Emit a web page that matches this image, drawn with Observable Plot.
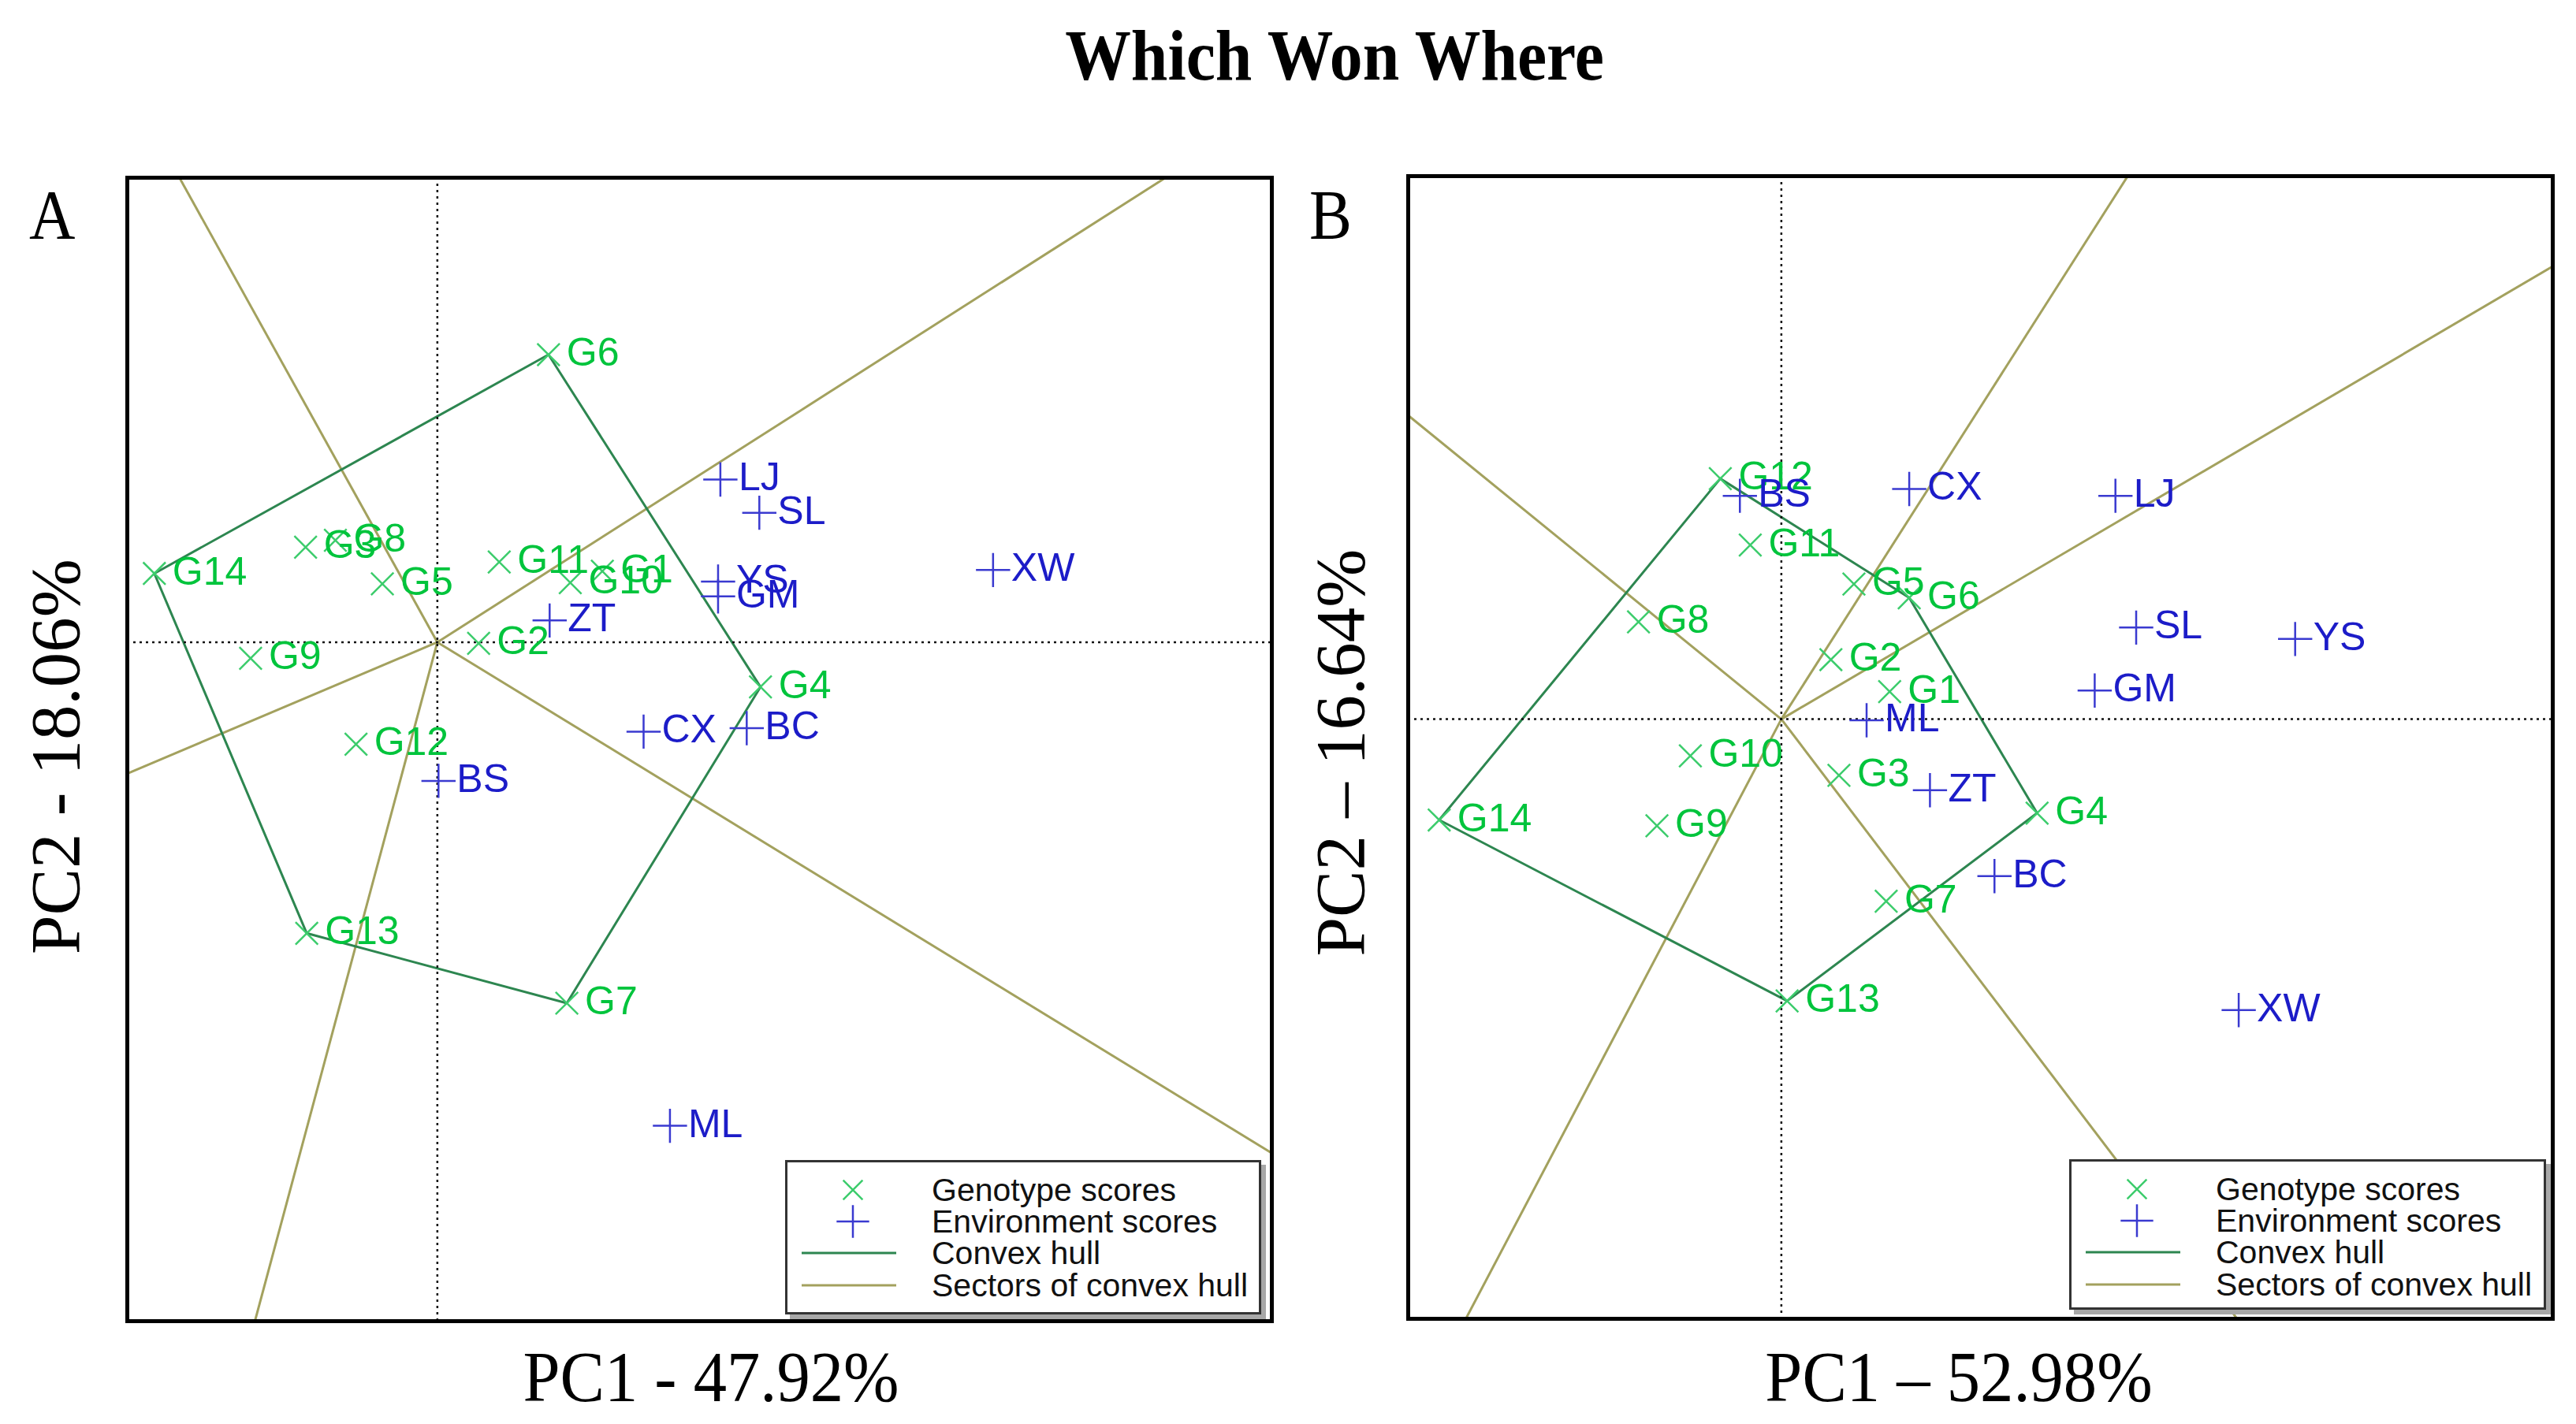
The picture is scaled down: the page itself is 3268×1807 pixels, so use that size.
<!DOCTYPE html>
<html>
<head>
<meta charset="utf-8">
<title>Which Won Where</title>
<script src="https://cdn.jsdelivr.net/npm/d3@7"></script>
<script src="https://cdn.jsdelivr.net/npm/@observablehq/plot@0.6"></script>
<style>
  html, body { margin: 0; padding: 0; background: #fff; }
  #page { position: relative; width: 3268px; height: 1807px; overflow: hidden; background: #fff; }
  #page > svg, #page > div { position: absolute; }
</style>
</head>
<body>
<div id="page"></div>
<script>
// ---------------- data ----------------
const genotypes = ["G1","G2","G3","G4","G5","G6","G7","G8","G9","G10","G11","G12","G13","G14"];
const environments = ["BC","BS","CX","GM","LJ","ML","SL","XW","YS","ZT"];

// Panel A (PC1 47.92%, PC2 18.06%)
const genoA_PC1 = [1.44, 0.36, -1.15, 2.82, -0.48, 0.97, 1.13, -0.89, -1.63, 1.16, 0.54, -0.71, -1.14, -2.47];
const genoA_PC2 = [0.62, -0.01, 0.83, -0.39, 0.51, 2.51, -3.15, 0.89, -0.14, 0.52, 0.70, -0.89, -2.54, 0.60];
const envA_PC1  = [2.70, 0.01, 1.80, 2.45, 2.47, 2.03, 2.81, 4.85, 2.45, 0.98];
const envA_PC2  = [-0.75, -1.21, -0.78, 0.40, 1.42, -4.22, 1.13, 0.63, 0.53, 0.19];
const hullA = ["G6","G4","G7","G13","G14"];

// Panel B (PC1 52.98%, PC2 16.64%)
const genoB_PC1 = [0.94, 0.43, 0.50, 2.22, 0.63, 1.11, 0.91, -1.24, -1.08, -0.79, -0.27, -0.53, 0.05, -2.97];
const genoB_PC2 = [0.24, 0.52, -0.49, -0.82, 1.18, 1.06, -1.59, 0.85, -0.93, -0.32, 1.52, 2.10, -2.46, -0.88];
const envB_PC1  = [1.85, -0.36, 1.11, 2.72, 2.90, 0.74, 3.08, 3.97, 4.46, 1.29];
const envB_PC2  = [-1.37, 1.95, 2.01, 0.25, 1.95, -0.01, 0.80, -2.54, 0.70, -0.62];
const hullB = ["G12","G6","G4","G13","G14"];

const legendLabels = ["Genotype scores", "Environment scores", "Convex hull", "Sectors of convex hull"];

// ---------------- styles ----------------
const genoColor = "#00c43c";
const genoMarker = "#3ccc6c";
const envColor = "#1c1cc8";
const envMarker = "#3a3ad0";
const hullColor = "#2d8650";
const sectorColor = "#a3a15e";
const sans = "'Liberation Sans', Arial, Helvetica, sans-serif";
const serif = "'Liberation Serif', 'Times New Roman', serif";

const page = document.getElementById("page");

// ---------------- annotation layer (titles, axis labels) ----------------
const ann = d3.select(page).append("svg")
  .attr("width", 3268).attr("height", 1807)
  .style("left", "0px").style("top", "0px");

function serifText(x, y, txt, size, opts = {}) {
  return ann.append("text")
    .attr("transform", `translate(${x},${y})` + (opts.rotate ? ` rotate(${opts.rotate})` : "") + (opts.sx ? ` scale(${opts.sx},1)` : ""))
    .attr("text-anchor", opts.anchor || "middle")
    .attr("font-family", serif)
    .attr("font-size", size)
    .attr("font-weight", opts.bold ? "bold" : "normal")
    .attr("fill", "#000")
    .text(txt);
}
serifText(1693, 101, "Which Won Where", 91, {bold: true, sx: 0.92});
serifText(37, 302, "A", 88, {anchor: "start", sx: 0.92});
serifText(1661, 302, "B", 88, {anchor: "start", sx: 0.92});
serifText(902, 1778, "PC1 - 47.92%", 92, {sx: 0.92});
serifText(2485, 1778, "PC1 \u2013 52.98%", 92, {sx: 0.92});
serifText(100, 960, "PC2 - 18.06%", 89, {rotate: -90});
serifText(1730, 955, "PC2 \u2013 16.64%", 89, {rotate: -90});

// ---------------- panels ----------------
function panel(cfg) {
  const geno = genotypes.map((g, i) => ({name: g, x: cfg.gx[i], y: cfg.gy[i]}));
  const env = environments.map((e, i) => ({name: e, x: cfg.ex[i], y: cfg.ey[i]}));
  const hullPts = cfg.hull.map(n => geno.find(d => d.name === n));
  const hullClosed = [...hullPts, hullPts[0]];
  // sector rays: from origin, perpendicular to each hull edge
  const rays = hullPts.map((a, i) => {
    const b = hullPts[(i + 1) % hullPts.length];
    const dx = b.x - a.x, dy = b.y - a.y;
    const t = -(a.x * dx + a.y * dy) / (dx * dx + dy * dy);
    const fx = a.x + t * dx, fy = a.y + t * dy;
    const len = Math.hypot(fx, fy);
    return {x1: 0, y1: 0, x2: fx / len * 40, y2: fy / len * 40};
  });
  const m = 6;
  const svg = Plot.plot({
    width: cfg.width, height: cfg.height,
    marginTop: m, marginRight: m, marginBottom: m, marginLeft: m,
    x: {domain: cfg.xDomain, axis: null},
    y: {domain: cfg.yDomain, axis: null},
    style: {background: "white", fontFamily: sans},
    marks: [
      Plot.link(rays, {x1: "x1", y1: "y1", x2: "x2", y2: "y2", stroke: sectorColor, strokeWidth: 3, clip: true}),
      Plot.line(hullClosed, {x: "x", y: "y", stroke: hullColor, strokeWidth: 3}),
      Plot.ruleX([0], {stroke: "#111", strokeWidth: 2.5, strokeDasharray: "3,5"}),
      Plot.ruleY([0], {stroke: "#111", strokeWidth: 2.5, strokeDasharray: "3,5"}),
      Plot.dot(geno, {x: "x", y: "y", symbol: "times", r: 13, stroke: genoMarker, strokeWidth: 2.5}),
      Plot.text(geno, {x: "x", y: "y", text: "name", dx: 23, dy: -2, textAnchor: "start", fill: genoColor, fontSize: 50, fontFamily: sans}),
      Plot.dot(env, {x: "x", y: "y", symbol: "plus", r: 14, stroke: envMarker, strokeWidth: 2.5}),
      Plot.text(env, {x: "x", y: "y", text: "name", dx: 23, dy: -2, textAnchor: "start", fill: envColor, fontSize: 50, fontFamily: sans}),
      Plot.frame({stroke: "#000", strokeWidth: 5})
    ]
  });
  svg.style.position = "absolute";
  svg.style.left = cfg.left + "px";
  svg.style.top = cfg.top + "px";
  page.appendChild(svg);
}

panel({
  gx: genoA_PC1, gy: genoA_PC2, ex: envA_PC1, ey: envA_PC2, hull: hullA,
  xDomain: [-2.706, 7.283], yDomain: [-5.925, 4.054],
  left: 155, top: 219, width: 1464, height: 1463
});
panel({
  gx: genoB_PC1, gy: genoB_PC2, ex: envB_PC1, ey: envB_PC2, hull: hullB,
  xDomain: [-3.239, 6.696], yDomain: [-5.235, 4.741],
  left: 1780, top: 217, width: 1464, height: 1462
});

// ---------------- legends ----------------
function legend(left, top, w, h) {
  const s = d3.select(page).append("svg")
    .attr("width", w + 10).attr("height", h + 10)
    .style("left", left + "px").style("top", top + "px");
  s.append("rect").attr("x", 6).attr("y", 6).attr("width", w).attr("height", h).attr("fill", "#a8a8a8");
  s.append("rect").attr("x", 1.5).attr("y", 1.5).attr("width", w - 3).attr("height", h - 3)
    .attr("fill", "#fff").attr("stroke", "#333").attr("stroke-width", 3);
  const rows = [38, 78, 118, 159];
  const symX = 86;
  s.append("path").attr("transform", `translate(${symX},${rows[0]})`)
    .attr("d", d3.symbol(d3.symbolTimes, 400)()).attr("fill", "none").attr("stroke", genoMarker).attr("stroke-width", 2.5);
  s.append("path").attr("transform", `translate(${symX},${rows[1]})`)
    .attr("d", d3.symbol(d3.symbolPlus, 560)()).attr("fill", "none").attr("stroke", envMarker).attr("stroke-width", 2.5);
  s.append("line").attr("x1", 21).attr("x2", 141).attr("y1", rows[2]).attr("y2", rows[2])
    .attr("stroke", hullColor).attr("stroke-width", 3);
  s.append("line").attr("x1", 21).attr("x2", 141).attr("y1", rows[3]).attr("y2", rows[3])
    .attr("stroke", sectorColor).attr("stroke-width", 3);
  legendLabels.forEach((t, i) => {
    s.append("text").attr("x", 186).attr("y", rows[i]).attr("dy", "0.35em")
      .attr("font-family", sans).attr("font-size", 41).attr("fill", "#111").text(t);
  });
}
legend(996, 1472, 604, 196);
legend(2625, 1471, 605, 191);
</script>
</body>
</html>
